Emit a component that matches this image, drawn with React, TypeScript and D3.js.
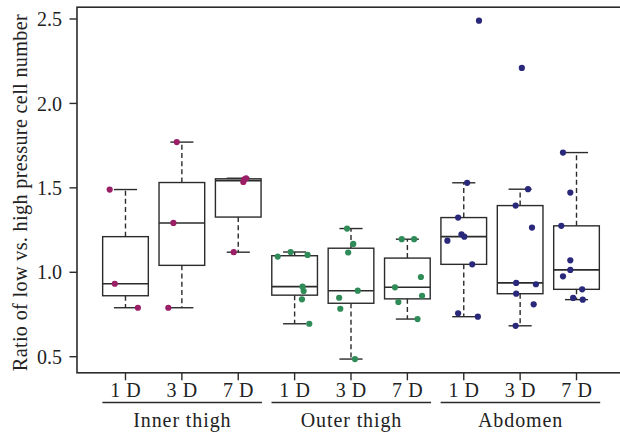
import React from "react";
import * as d3 from "d3";

const groups = ["Inner thigh", "Outer thigh", "Abdomen"];
const days = ["1 D", "3 D", "7 D"];
const groupColors = ["#9a1f66", "#2f8b57", "#2a287a"];

// values per box (group x day), in order
const innerThigh1D = [1.49, 0.932, 0.79];
const innerThigh3D = [1.771, 1.292, 0.79];
const innerThigh7D = [1.119, 1.535, 1.55, 1.557];
const outerThigh1D = [1.093, 1.12, 1.103, 0.915, 0.889, 0.84, 0.695];
const outerThigh3D = [1.259, 1.168, 1.117, 0.891, 0.849, 0.784, 0.486];
const outerThigh7D = [1.196, 1.196, 0.972, 0.911, 0.861, 0.824, 0.723];
const abdomen1D = [2.49, 1.53, 1.324, 1.225, 1.211, 1.187, 1.047, 0.757, 0.737];
const abdomen3D = [2.21, 1.492, 1.395, 1.265, 0.937, 0.929, 0.873, 0.81, 0.683];
const abdomen7D = [1.709, 1.472, 1.275, 1.071, 1.014, 0.976, 0.899, 0.848, 0.838];

// horizontal jitter of points (in box units)
const jitInner1D = [-0.28, -0.19, 0.22];
const jitInner3D = [-0.09, -0.15, -0.24];
const jitInner7D = [-0.08, 0.09, 0.11, 0.14];
const jitOuter1D = [-0.3, -0.07, 0.23, 0.14, 0.16, 0.13, 0.26];
const jitOuter3D = [-0.07, 0.04, -0.05, 0.12, -0.21, -0.19, 0.07];
const jitOuter7D = [-0.1, 0.12, 0.24, -0.22, 0.26, -0.16, 0.18];
const jitAbd1D = [0.27, 0.06, -0.1, -0.04, 0.01, -0.29, 0.15, -0.1, 0.25];
const jitAbd3D = [0.03, 0.14, -0.08, 0.21, -0.07, 0.28, -0.07, 0.24, -0.08];
const jitAbd7D = [-0.24, -0.11, -0.27, -0.11, -0.11, -0.24, 0.1, -0.06, 0.11];

const yTicks = [0.5, 1.0, 1.5, 2.0, 2.5];

const boxValues = [
  innerThigh1D, innerThigh3D, innerThigh7D,
  outerThigh1D, outerThigh3D, outerThigh7D,
  abdomen1D, abdomen3D, abdomen7D,
];
const boxJitter = [
  jitInner1D, jitInner3D, jitInner7D,
  jitOuter1D, jitOuter3D, jitOuter7D,
  jitAbd1D, jitAbd3D, jitAbd7D,
];

function fivenum(vals: number[]) {
  const x = [...vals].sort((a, b) => a - b);
  const n = x.length;
  const n4 = Math.floor((n + 3) / 2) / 2;
  const d = [1, n4, (n + 1) / 2, n + 1 - n4, n];
  return d.map((p) => 0.5 * (x[Math.floor(p) - 1] + x[Math.ceil(p) - 1]));
}

function stats(vals: number[]) {
  const [mn, lh, med, uh, mx] = fivenum(vals);
  const iqr = uh - lh;
  const lo = d3.min(vals.filter((v) => v >= lh - 1.5 * iqr)) as number;
  const hi = d3.max(vals.filter((v) => v <= uh + 1.5 * iqr)) as number;
  return { lh, med, uh, lo, hi, mn, mx };
}

const W = 620;
const H = 434;
const font = "'Liberation Serif', 'Times New Roman', serif";

export default function App() {
  const x = d3.scaleLinear().domain([0.14, 9.86]).range([77, 625]);
  const y = d3.scaleLinear().domain([0.5, 2.5]).range([356.7, 19]);
  const top = y(2.5) - 11.8;
  const bottom = 372.8;
  const left = 77;
  const stroke = "#2b2b2b";
  const boxHalf = 0.405;
  const capHalf = 0.205;

  return (
    <svg
      width={W}
      height={H}
      style={{ position: "absolute", left: 0, top: 0, background: "#fff" }}
      fontFamily={font}
    >
      <rect x={0} y={0} width={W} height={H} fill="#fff" />
      {/* frame */}
      <rect
        x={left}
        y={top}
        width={x(9.86) - left}
        height={bottom - top}
        fill="none"
        stroke={stroke}
        strokeWidth={1.6}
      />
      {/* y axis ticks */}
      {yTicks.map((t) => (
        <g key={t}>
          <line x1={left - 7.5} x2={left} y1={y(t)} y2={y(t)} stroke={stroke} strokeWidth={1.4} />
          <text x={left - 15} y={y(t)} dy="0.36em" textAnchor="end" fontSize={20} fill="#222">
            {t.toFixed(1)}
          </text>
        </g>
      ))}
      <text
        transform={`translate(26.5, 192.5) rotate(-90)`}
        textAnchor="middle"
        fontSize={20.3}
        letterSpacing={0.3}
        fill="#222"
      >
        Ratio of low vs. high pressure cell number
      </text>
      {/* boxes */}
      {boxValues.map((vals, i) => {
        const pos = i + 1;
        const s = stats(vals);
        const color = groupColors[Math.floor(i / 3)];
        const cx = x(pos);
        return (
          <g key={i}>
            <line x1={cx} x2={cx} y1={y(s.uh)} y2={y(s.hi)} stroke={stroke} strokeWidth={1.4} strokeDasharray="5,3.2" />
            <line x1={cx} x2={cx} y1={y(s.lh)} y2={y(s.lo)} stroke={stroke} strokeWidth={1.4} strokeDasharray="5,3.2" />
            <line x1={x(pos - capHalf)} x2={x(pos + capHalf)} y1={y(s.hi)} y2={y(s.hi)} stroke={stroke} strokeWidth={1.4} />
            <line x1={x(pos - capHalf)} x2={x(pos + capHalf)} y1={y(s.lo)} y2={y(s.lo)} stroke={stroke} strokeWidth={1.4} />
            <rect
              x={x(pos - boxHalf)}
              y={y(s.uh)}
              width={x(pos + boxHalf) - x(pos - boxHalf)}
              height={y(s.lh) - y(s.uh)}
              fill="#fff"
              stroke={stroke}
              strokeWidth={1.4}
            />
            <line x1={x(pos - boxHalf)} x2={x(pos + boxHalf)} y1={y(s.med)} y2={y(s.med)} stroke={stroke} strokeWidth={1.6} />
            {vals.map((v, j) => (
              <circle key={j} cx={x(pos + boxJitter[i][j])} cy={y(v)} r={3.1} fill={color} />
            ))}
          </g>
        );
      })}
      {/* x axis ticks */}
      {boxValues.map((_, i) => (
        <g key={"xt" + i}>
          <line x1={x(i + 1)} x2={x(i + 1)} y1={bottom} y2={bottom + 7.5} stroke={stroke} strokeWidth={1.4} />
          <text x={x(i + 1) + 0.3} y={397} textAnchor="middle" fontSize={20} letterSpacing={0.6} fill="#222">
            {days[i % 3]}
          </text>
        </g>
      ))}
      {groups.map((g, k) => {
        const p0 = k * 3 + 1;
        return (
          <g key={g}>
            <line x1={x(p0 - 0.41)} x2={x(p0 + 2 + 0.42)} y1={402.5} y2={402.5} stroke={stroke} strokeWidth={1.4} />
            <text x={x(p0 + 1) + 0.5} y={427} textAnchor="middle" fontSize={20} letterSpacing={0.9} fill="#222">
              {g}
            </text>
          </g>
        );
      })}
    </svg>
  );
}
